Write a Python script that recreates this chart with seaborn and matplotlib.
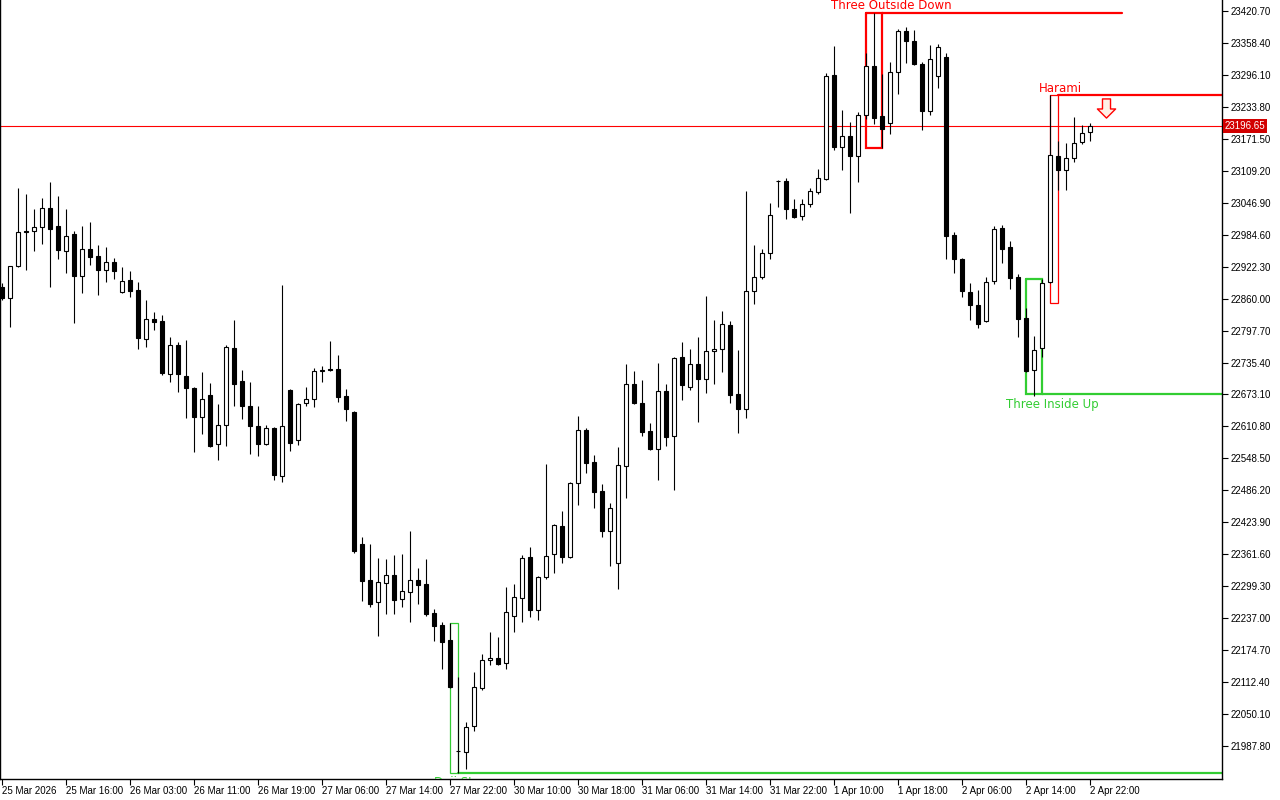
import matplotlib.pyplot as plt
from matplotlib.path import Path
import pandas as pd
import seaborn as sns

# hourly candles, 25 Mar 2026 -> 2 Apr 22:00
opens = [22883, 22861, 22923, 22992, 22992, 22999, 23037, 23001, 22953, 22986,
         22904, 22957, 22943, 22916, 22931, 22873, 22896, 22877, 22781, 22820,
         22816, 22713, 22769, 22709, 22686, 22629, 22672, 22576, 22613, 22764,
         22699, 22651, 22612, 22576, 22608, 22514, 22682, 22584, 22656, 22664,
         22719, 22723, 22723, 22670, 22639, 22382, 22311, 22268, 22305, 22321,
         22274, 22288, 22311, 22304, 22247, 22224, 22194, 21978, 21976, 22027,
         22101, 22155, 22159, 22150, 22241, 22276, 22356, 22253, 22317, 22362,
         22417, 22356, 22500, 22604, 22541, 22485, 22407, 22344, 22534, 22693,
         22656, 22602, 22567, 22680, 22592, 22746, 22688, 22732, 22703, 22758,
         22762, 22808, 22674, 22645, 22875, 22902, 22949, 23089, 23089, 23035,
         23021, 23044, 23068, 23093, 23296, 23155, 23177, 23138, 23218, 23313,
         23216, 23202, 23302, 23382, 23362, 23317, 23226, 23294, 23331, 22984,
         22937, 22873, 22847, 22816, 22894, 22998, 22960, 22902, 22822, 22721,
         22764, 22892, 23138, 23111, 23134, 23165, 23185]
highs = [22890, 22923, 23076, 23064, 23035, 23056, 23087, 23060, 23035, 22992,
         23001, 23009, 22964, 22960, 22939, 22922, 22914, 22892, 22857, 22834,
         22828, 22785, 22775, 22779, 22688, 22717, 22695, 22654, 22769, 22818,
         22721, 22697, 22651, 22613, 22610, 22886, 22684, 22656, 22688, 22725,
         22729, 22777, 22750, 22684, 22641, 22395, 22382, 22354, 22352, 22360,
         22362, 22407, 22335, 22352, 22255, 22229, 22228, 22122, 22035, 22132,
         22167, 22210, 22200, 22298, 22304, 22360, 22376, 22319, 22537, 22421,
         22446, 22502, 22631, 22608, 22555, 22498, 22461, 22571, 22732, 22719,
         22701, 22617, 22734, 22693, 22746, 22775, 22762, 22785, 22865, 22818,
         22836, 22816, 22760, 23070, 22964, 22957, 23046, 23091, 23095, 23054,
         23054, 23076, 23113, 23300, 23352, 23228, 23204, 23224, 23339, 23417,
         23298, 23321, 23385, 23389, 23384, 23321, 23354, 23356, 23339, 22990,
         22939, 22890, 22877, 22902, 23001, 23003, 22972, 22908, 22842, 22787,
         22898, 23257, 23167, 23163, 23214, 23198, 23202]
lows = [22857, 22805, 22921, 22916, 22953, 22966, 22883, 22937, 22910, 22812,
        22871, 22925, 22867, 22892, 22898, 22871, 22863, 22762, 22766, 22799,
        22711, 22697, 22678, 22627, 22561, 22596, 22571, 22545, 22573, 22651,
        22625, 22557, 22553, 22574, 22506, 22502, 22563, 22575, 22651, 22649,
        22697, 22719, 22658, 22621, 22364, 22270, 22259, 22202, 22245, 22245,
        22259, 22229, 22265, 22241, 22192, 22138, 22101, 21935, 21943, 22017,
        22097, 22146, 22146, 22138, 22210, 22229, 22239, 22233, 22313, 22325,
        22344, 22354, 22458, 22520, 22452, 22395, 22339, 22294, 22471, 22654,
        22592, 22565, 22506, 22573, 22487, 22662, 22682, 22619, 22676, 22693,
        22717, 22656, 22598, 22627, 22849, 22898, 22937, 23038, 23015, 23017,
        23013, 23038, 23064, 23091, 23150, 23111, 23027, 23087, 23210, 23200,
        23153, 23181, 23259, 23319, 23315, 23189, 23218, 23270, 22937, 22910,
        22863, 22818, 22803, 22814, 22888, 22929, 22879, 22785, 22717, 22670,
        22746, 22890, 23072, 23072, 23126, 23161, 23167]
closes = [22861, 22923, 22990, 22990, 22999, 23037, 22996, 22955, 22982, 22904,
          22957, 22941, 22916, 22931, 22914, 22894, 22875, 22783, 22820, 22814,
          22715, 22769, 22713, 22686, 22629, 22664, 22573, 22613, 22766, 22693,
          22651, 22612, 22576, 22608, 22516, 22612, 22578, 22654, 22664, 22719,
          22721, 22721, 22668, 22645, 22368, 22309, 22265, 22307, 22321, 22272,
          22290, 22311, 22302, 22245, 22222, 22190, 22103, 21979, 22025, 22103,
          22155, 22159, 22148, 22249, 22278, 22354, 22253, 22317, 22358, 22419,
          22356, 22500, 22604, 22539, 22483, 22407, 22452, 22536, 22693, 22656,
          22600, 22567, 22680, 22590, 22744, 22691, 22732, 22703, 22758, 22762,
          22810, 22672, 22645, 22875, 22902, 22949, 23023, 23090, 23035, 23019,
          23044, 23070, 23095, 23294, 23155, 23177, 23138, 23218, 23313, 23212,
          23191, 23302, 23382, 23362, 23317, 23226, 23327, 23350, 22982, 22937,
          22875, 22847, 22810, 22892, 22996, 22957, 22900, 22820, 22719, 22760,
          22890, 23140, 23111, 23134, 23163, 23183, 23196.65]

last_price = 23196.65

price_ticks = [23420.70, 23358.40, 23296.10, 23233.80, 23171.50, 23109.20, 23046.90,
               22984.60, 22922.30, 22860.00, 22797.70, 22735.40, 22673.10, 22610.80,
               22548.50, 22486.20, 22423.90, 22361.60, 22299.30, 22237.00, 22174.70,
               22112.40, 22050.10, 21987.80]
time_labels = ["25 Mar 2026", "25 Mar 16:00", "26 Mar 03:00", "26 Mar 11:00",
               "26 Mar 19:00", "27 Mar 06:00", "27 Mar 14:00", "27 Mar 22:00",
               "30 Mar 10:00", "30 Mar 18:00", "31 Mar 06:00", "31 Mar 14:00",
               "31 Mar 22:00", "1 Apr 10:00", "1 Apr 18:00", "2 Apr 06:00",
               "2 Apr 14:00", "2 Apr 22:00"]

# candlestick patterns: first bar, last bar, box top, box bottom
pat_names = ["Three Outside Down", "Harami", "Three Inside Up", "Doji Star"]
pat_first = [108, 131, 128, 56]
pat_last = [110, 132, 130, 57]
pat_top = [23417, 23257, 22898, 22228]
pat_bottom = [23153, 22851, 22673.1, 21935]
pat_bullish = [False, False, True, True]
signal_price = 23231

df = pd.DataFrame({"open": opens, "high": highs, "low": lows, "close": closes})
df["bar"] = range(len(df))
up = df[df.close >= df.open]
down = df[df.close < df.open]

sns.set_theme(style="white")
plt.rcParams['font.family'] = ['Liberation Sans', 'DejaVu Sans']

RED = "#ff0000"
GREEN = "#32cd32"

fig = plt.figure(figsize=(12.8, 8), dpi=100)
ax = fig.add_axes([0, 21 / 800, 1222 / 1280, 779 / 800])
ax.set_facecolor("white")
x_right = 152.5

# wicks and bodies
ax.vlines(df.bar, df.low, df.high, color="black", lw=0.8, zorder=3)
ax.bar(up.bar, (up.close - up.open).clip(lower=0.3), bottom=up.open, width=0.55,
       facecolor="white", edgecolor="black", lw=0.8, zorder=4)
ax.bar(down.bar, down.close - down.open, bottom=down.open, width=0.55,
       facecolor="black", edgecolor="black", lw=0.8, zorder=4)

# current price line
ax.axhline(last_price, color=RED, lw=0.8, zorder=1)

# pattern boxes + extension lines
line_end = [140, x_right, x_right, x_right]
box_lw = [1.6, 0.9, 1.6, 0.9]
for i in range(len(pat_names)):
    c = GREEN if pat_bullish[i] else RED
    a, b = pat_first[i], pat_last[i]
    t, btm = pat_top[i], pat_bottom[i]
    ax.plot([a, a, b, b, a], [t, btm, btm, t, t], color=c, lw=box_lw[i], zorder=2,
            solid_joinstyle="miter")
    lvl = btm if pat_bullish[i] else t
    ax.plot([b, line_end[i]], [lvl, lvl], color=c, lw=1.6, zorder=2)

txt = dict(family=["DejaVu Sans"], fontsize=8.5, ha="center", zorder=5, clip_on=True)
ax.text(111.2, 23432, pat_names[0], color=RED, va="center", **txt)
ax.text(132.25, 23270, pat_names[1], color=RED, va="center", **txt)
ax.text(131.25, 22654, pat_names[2], color=GREEN, va="center", **txt)
ax.text(57.2, 21929, pat_names[3], color=GREEN, va="top", **txt)

# sell signal arrow
arrow = Path([(-0.42, 1), (0.42, 1), (0.42, -0.05), (0.95, -0.05), (0, -1),
              (-0.95, -0.05), (-0.42, -0.05), (-0.42, 1)],
             [Path.MOVETO] + [Path.LINETO] * 6 + [Path.CLOSEPOLY])
ax.scatter([138], [signal_price], marker=arrow, s=190, facecolor="#fff0e6",
           edgecolor=RED, linewidth=1.0, zorder=5)

# axes
ax.set_xlim(-0.25, x_right)
ax.set_ylim(21923.5, 23442.1)
ax.set_xticks(range(0, 8 * len(time_labels), 8))
ax.set_xticklabels(time_labels, ha="left")
ax.yaxis.tick_right()
ax.set_yticks(price_ticks)
ax.set_yticklabels([f"{v:.2f}" for v in price_ticks])
ax.tick_params(axis="x", bottom=True, direction="out", length=4, width=0.8,
               color="black", pad=1, labelsize=7, labelcolor="black")
ax.tick_params(axis="y", right=True, left=False, direction="out", length=4,
               width=0.8, color="black", pad=2, labelsize=7, labelcolor="black")
for s in ["left", "right", "bottom"]:
    ax.spines[s].set_color("black")
    ax.spines[s].set_linewidth(1.0)
ax.spines["top"].set_visible(False)
ax.grid(False)

ax.annotate(f"{last_price:.2f}", xy=(1 + 3 / 1222, last_price),
            xycoords=("axes fraction", "data"), ha="left", va="center",
            fontsize=7, color="white", annotation_clip=False,
            bbox=dict(boxstyle="square,pad=0.18", fc="#d20000", ec="none"))

fig.savefig("out.png", dpi=100, facecolor="white")
